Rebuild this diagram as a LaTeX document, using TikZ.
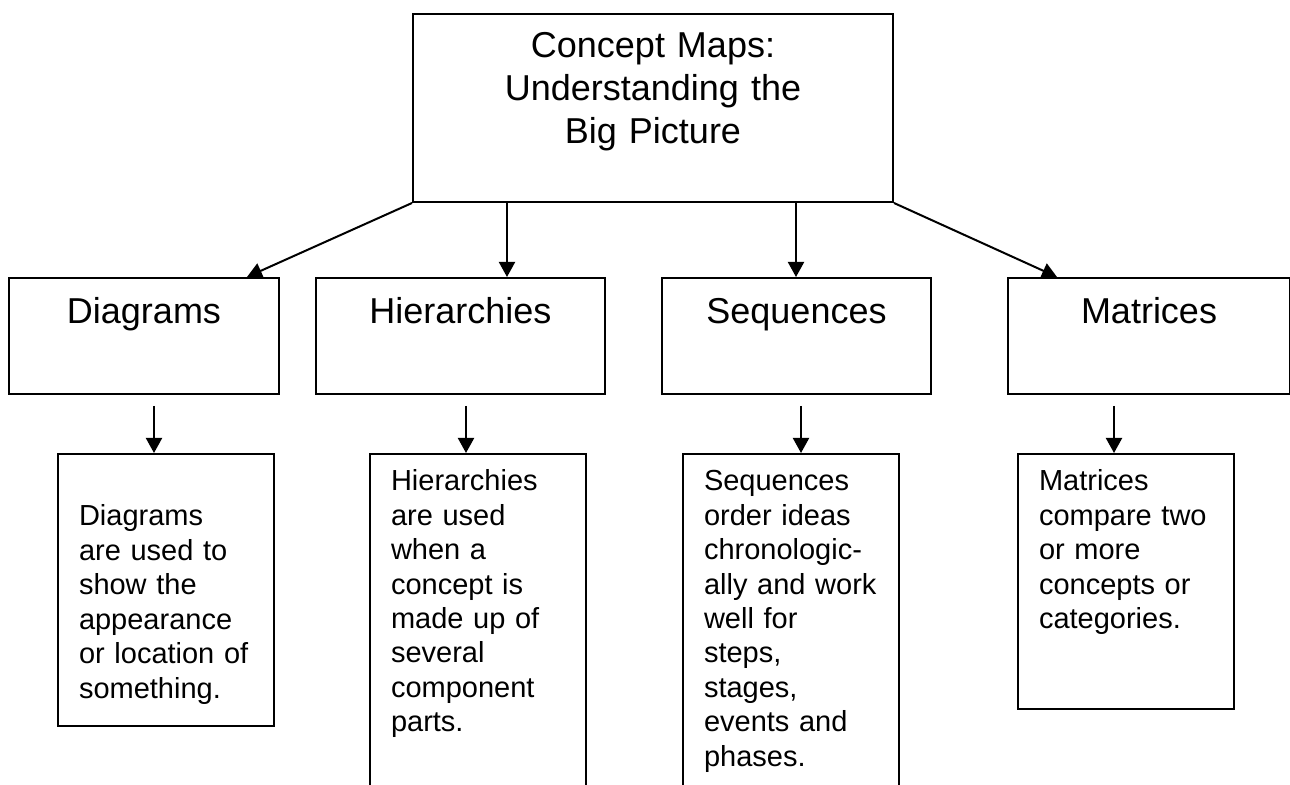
\documentclass[tikz,border=0pt]{standalone}
\usepackage{fontspec}
\setmainfont{Liberation Sans}
\usetikzlibrary{calc,arrows.meta}
\tikzset{>={Triangle[length=7.5pt,width=8pt]}}
\tikzset{
  box/.style={draw,line width=1pt,anchor=north west,inner sep=0pt},
  headbox/.style={box,align=center,font=\fontsize{18}{21.5}\selectfont,
    text height=22.85pt,text depth=35.15pt},
  txtbox/.style={box,align=left,inner xsep=10.5pt,text width=87pt,
    font=\fontsize{14.5}{17.2}\selectfont,text height=18.5pt},
  link/.style={->,line width=1pt}
}

\begin{document}
\begin{tikzpicture}[x=0.5pt,y=-0.5pt]
\useasboundingbox (0,0) rectangle (1290,785);
\clip (0,0) rectangle (1290,785);
\node[box,align=center,text width=240pt,font=\fontsize{18}{21.5}\selectfont,
      text height=22.15pt,text depth=72pt] (title) at (412,12.7)
      {Concept Maps:\\Understanding the\\Big Picture};
\node[headbox,text width=135pt] (diag) at (8,277) {Diagrams};
\node[headbox,text width=144.5pt] (hier) at (315,277) {Hierarchies};
\node[headbox,text width=134.5pt] (seq) at (661,277) {Sequences};
\node[headbox,text width=141pt] (mat) at (1007,277) {Matrices};
\node[txtbox,text height=36pt,text depth=100pt] (diagtxt) at (57,453)
      {Diagrams\\are used to\\show the\\appearance\\or location of\\something.};
\node[txtbox,text depth=155pt] (hiertxt) at (369,453)
      {Hierarchies\\are used\\when a\\concept is\\made up of\\several\\component\\parts.};
\node[txtbox,text depth=155pt] (seqtxt) at (682,453)
      {Sequences\\order ideas\\chronologic-\\ally and work\\well for\\steps,\\stages,\\events and\\phases.};
\node[txtbox,text depth=109pt] (mattxt) at (1017,453)
      {Matrices\\compare two\\or more\\concepts or\\categories.};
\draw[link] (title.south west) -- ($(diag.north west)+(239,0)$);
\draw[link] ($(title.south west)+(95,0)$) -- ($(hier.north west)+(192,0)$);
\draw[link] ($(title.south west)+(384,0)$) -- ($(seq.north west)+(135,0)$);
\draw[link] (title.south east) -- ($(mat.north west)+(50,0)$);
\draw[link] ($(diag.south west)+(146,11)$) -- ($(diagtxt.north west)+(97,0)$);
\draw[link] ($(hier.south west)+(151,11)$) -- ($(hiertxt.north west)+(97,0)$);
\draw[link] ($(seq.south west)+(140,11)$) -- ($(seqtxt.north west)+(119,0)$);
\draw[link] ($(mat.south west)+(107,11)$) -- ($(mattxt.north west)+(97,0)$);
\end{tikzpicture}
\end{document}
